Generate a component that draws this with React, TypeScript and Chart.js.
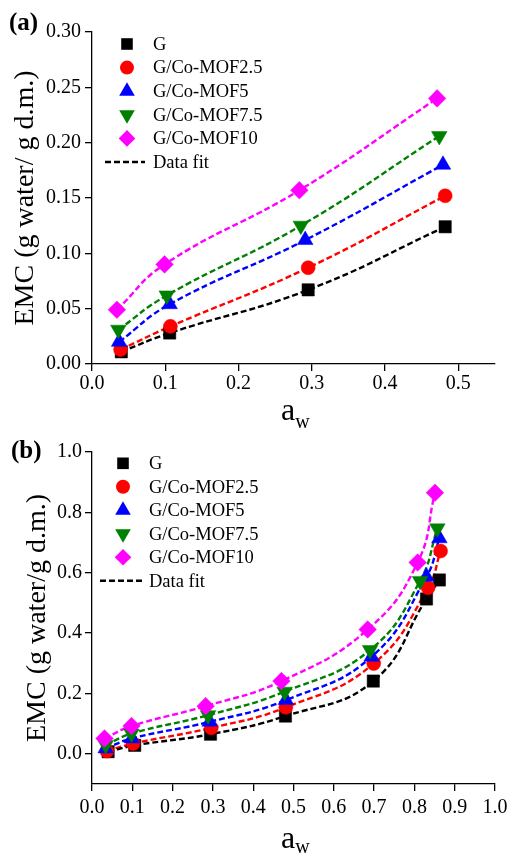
import React, { useEffect, useRef } from 'react';
import { Chart, registerables } from 'chart.js';

Chart.register(...registerables);

const FONT = "'Liberation Serif', 'Times New Roman', serif";

// ---- series meta ----
const seriesNames = ['G', 'G/Co-MOF2.5', 'G/Co-MOF5', 'G/Co-MOF7.5', 'G/Co-MOF10'];
const seriesColors = ['#000000', '#ff0000', '#0000ff', '#008000', '#ff00ff'];
const fitLabel = 'Data fit';

// ---- panel (a) data ----
const aX_G = [0.040, 0.106, 0.295, 0.482];
const aY_G = [0.011, 0.028, 0.067, 0.124];
const aX_M25 = [0.039, 0.107, 0.295, 0.482];
const aY_M25 = [0.013, 0.034, 0.087, 0.152];
const aX_M5 = [0.037, 0.106, 0.291, 0.479];
const aY_M5 = [0.020, 0.054, 0.112, 0.180];
const aX_M75 = [0.036, 0.102, 0.285, 0.474];
const aY_M75 = [0.031, 0.062, 0.125, 0.206];
const aX_M10 = [0.034, 0.099, 0.283, 0.471];
const aY_M10 = [0.049, 0.090, 0.157, 0.240];

// ---- panel (b) data ----
const bX_G = [0.040, 0.106, 0.294, 0.480, 0.698, 0.830, 0.862];
const bY_G = [0.007, 0.028, 0.065, 0.125, 0.241, 0.513, 0.576];
const bX_M25 = [0.037, 0.102, 0.296, 0.481, 0.699, 0.834, 0.865];
const bY_M25 = [0.009, 0.034, 0.086, 0.154, 0.299, 0.550, 0.672];
const bX_M5 = [0.034, 0.099, 0.292, 0.481, 0.694, 0.830, 0.862];
const bY_M5 = [0.018, 0.051, 0.106, 0.178, 0.322, 0.587, 0.714];
const bX_M75 = [0.034, 0.098, 0.288, 0.478, 0.690, 0.814, 0.857];
const bY_M75 = [0.029, 0.067, 0.128, 0.206, 0.344, 0.573, 0.747];
const bX_M10 = [0.031, 0.098, 0.282, 0.470, 0.684, 0.808, 0.851];
const bY_M10 = [0.051, 0.092, 0.158, 0.241, 0.412, 0.634, 0.865];

// ---- ticks ----
const aXTicks = [0, 0.1, 0.2, 0.3, 0.4, 0.5];
const aYTicks = [0, 0.05, 0.1, 0.15, 0.2, 0.25, 0.3];
const bXTicks = [0, 0.1, 0.2, 0.3, 0.4, 0.5, 0.6, 0.7, 0.8, 0.9, 1.0];
const bYTicks = [0, 0.2, 0.4, 0.6, 0.8, 1.0];

type MarkerStyle = 'rect' | 'circle' | 'triangle' | 'triangleDown' | 'diamond';
const markerStyles: MarkerStyle[] = ['rect', 'circle', 'triangle', 'triangleDown', 'diamond'];
const markerRadius = [8.7, 7, 9, 9, 8.8];

interface PanelSpec {
  label: string;
  labelX: number;
  labelY: number;
  height: number;
  xAxisH: number;
  xMin: number;
  xMax: number;
  xTicks: number[];
  xDec: number;
  xTickPad: number;
  yMin: number;
  yMax: number;
  yTicks: number[];
  yDec: number;
  yTickPad: number;
  yTitle: string;
  yTitleX: number;
  xTitleX: number;
  xTitleY: number;
  wY: number;
  legMarkerX: number;
  legTextX: number;
  legY0: number;
  legDy: number;
  legLine: [number, number];
  xs: number[][];
  ys: number[][];
}

const panelA: PanelSpec = {
  label: '(a)', labelX: 9, labelY: 30, height: 432, xAxisH: 68,
  xMin: 0, xMax: 0.55, xTicks: aXTicks, xDec: 1, xTickPad: 1,
  yMin: 0, yMax: 0.3, yTicks: aYTicks, yDec: 2, yTickPad: 4,
  yTitle: 'EMC (g water/ g d.m.)', yTitleX: 33,
  xTitleX: 281, xTitleY: 420, wY: 428,
  legMarkerX: 127, legTextX: 153, legY0: 44, legDy: 23.6, legLine: [105, 145],
  xs: [aX_G, aX_M25, aX_M5, aX_M75, aX_M10],
  ys: [aY_G, aY_M25, aY_M5, aY_M75, aY_M10],
};

const panelB: PanelSpec = {
  label: '(b)', labelX: 11, labelY: 38, height: 442, xAxisH: 78,
  xMin: 0, xMax: 1.0, xTicks: bXTicks, xDec: 1, xTickPad: 5,
  yMin: -0.1, yMax: 1.0, yTicks: bYTicks, yDec: 1, yTickPad: 3,
  yTitle: 'EMC (g water/g d.m.)', yTitleX: 45,
  xTitleX: 281, xTitleY: 428, wY: 433,
  legMarkerX: 123, legTextX: 149, legY0: 43.3, legDy: 23.5, legLine: [100, 142],
  xs: [bX_G, bX_M25, bX_M5, bX_M75, bX_M10],
  ys: [bY_G, bY_M25, bY_M5, bY_M75, bY_M10],
};

function drawLegendMarker(ctx: CanvasRenderingContext2D, style: MarkerStyle, x: number, y: number, r: number, color: string) {
  ctx.save();
  ctx.fillStyle = color;
  ctx.beginPath();
  if (style === 'rect') {
    const h = r * Math.SQRT1_2;
    ctx.rect(x - h, y - h, 2 * h, 2 * h);
  } else if (style === 'circle') {
    ctx.arc(x, y, r, 0, Math.PI * 2);
  } else if (style === 'triangle' || style === 'triangleDown') {
    const s = style === 'triangle' ? 1 : -1;
    const dx = r * Math.sin(Math.PI / 3);
    ctx.moveTo(x, y - s * r);
    ctx.lineTo(x + dx, y + s * r / 2);
    ctx.lineTo(x - dx, y + s * r / 2);
    ctx.closePath();
  } else {
    ctx.moveTo(x, y - r);
    ctx.lineTo(x + r, y);
    ctx.lineTo(x, y + r);
    ctx.lineTo(x - r, y);
    ctx.closePath();
  }
  ctx.fill();
  ctx.restore();
}

function makeConfig(p: PanelSpec): any {
  const fitSets = p.xs.map((xs, i) => ({
    type: 'line',
    label: fitLabel + ' ' + seriesNames[i],
    data: xs.map((x, j) => ({ x, y: p.ys[i][j] })),
    borderColor: seriesColors[i],
    borderWidth: 2.4,
    borderDash: [6, 3],
    pointRadius: 0,
    fill: false,
    tension: 0.45,
    order: 100,
  }));
  const markerSets = p.xs.map((xs, i) => ({
    type: 'scatter',
    label: seriesNames[i],
    data: xs.map((x, j) => ({ x, y: p.ys[i][j] })),
    backgroundColor: seriesColors[i],
    borderColor: seriesColors[i],
    borderWidth: 0.5,
    pointStyle: markerStyles[i] === 'triangleDown' ? 'triangle' : markerStyles[i] === 'diamond' ? 'rectRot' : markerStyles[i],
    rotation: markerStyles[i] === 'triangleDown' ? 180 : 0,
    pointRadius: markerRadius[i],
    pointHoverRadius: markerRadius[i],
    showLine: false,
    order: 10 - i,
  }));

  const decor = {
    id: 'decor_' + p.label,
    afterDraw(chart: any) {
      const ctx: CanvasRenderingContext2D = chart.ctx;
      const area = chart.chartArea;
      ctx.save();
      ctx.fillStyle = '#000';
      // panel label
      ctx.font = `bold 25px ${FONT}`;
      ctx.textAlign = 'left';
      ctx.textBaseline = 'alphabetic';
      ctx.fillText(p.label, p.labelX, p.labelY);
      // y title
      ctx.save();
      ctx.translate(p.yTitleX, (area.top + area.bottom) / 2);
      ctx.rotate(-Math.PI / 2);
      ctx.font = `28px ${FONT}`;
      ctx.textAlign = 'center';
      ctx.fillText(p.yTitle, 0, 0);
      ctx.restore();
      // x title a_w
      ctx.font = `32px ${FONT}`;
      ctx.textAlign = 'left';
      ctx.fillText('a', p.xTitleX, p.xTitleY);
      const aw = ctx.measureText('a').width;
      ctx.font = `20px ${FONT}`;
      ctx.fillText('w', p.xTitleX + aw, p.wY);
      // legend
      ctx.font = `18.5px ${FONT}`;
      ctx.textBaseline = 'middle';
      seriesNames.forEach((name, i) => {
        const y = p.legY0 + i * p.legDy;
        const r = markerStyles[i] === 'rect' ? 8.2 : markerStyles[i] === 'diamond' ? 8.3 : markerRadius[i];
        drawLegendMarker(ctx, markerStyles[i], p.legMarkerX, y, r, seriesColors[i]);
        ctx.fillStyle = '#000';
        ctx.fillText(name, p.legTextX, y + 1);
      });
      const yl = p.legY0 + 5 * p.legDy;
      ctx.strokeStyle = '#000';
      ctx.lineWidth = 2.4;
      ctx.setLineDash([6, 3]);
      ctx.beginPath();
      ctx.moveTo(p.legLine[0], yl);
      ctx.lineTo(p.legLine[1], yl);
      ctx.stroke();
      ctx.setLineDash([]);
      ctx.fillText(fitLabel, p.legTextX, yl + 1);
      ctx.restore();
    },
  };

  return {
    type: 'scatter',
    data: { datasets: [...fitSets, ...markerSets] },
    options: {
      responsive: false,
      animation: false,
      events: [],
      layout: { padding: { left: 0, right: 22, top: 32, bottom: 0 } },
      plugins: { legend: { display: false }, tooltip: { enabled: false }, title: { display: false } },
      scales: {
        x: {
          type: 'linear',
          position: 'bottom',
          min: p.xMin,
          max: p.xMax,
          afterBuildTicks: (s: any) => { s.ticks = p.xTicks.map((v) => ({ value: v })); },
          afterFit: (s: any) => { s.height = p.xAxisH; },
          ticks: {
            callback: (v: any) => Number(v).toFixed(p.xDec),
            font: { family: FONT, size: 20 },
            color: '#000',
            padding: p.xTickPad,
            maxRotation: 0,
            autoSkip: false,
          },
          grid: { drawOnChartArea: false, drawTicks: true, tickLength: 7, color: '#000', lineWidth: 1.3 },
          border: { display: true, color: '#000', width: 1.3 },
          title: { display: false },
        },
        y: {
          type: 'linear',
          position: 'left',
          min: p.yMin,
          max: p.yMax,
          afterBuildTicks: (s: any) => { s.ticks = p.yTicks.map((v) => ({ value: v })); },
          afterFit: (s: any) => { s.width = 92; },
          ticks: {
            callback: (v: any) => Number(v).toFixed(p.yDec),
            font: { family: FONT, size: 20 },
            color: '#000',
            padding: p.yTickPad,
            autoSkip: false,
          },
          grid: { drawOnChartArea: false, drawTicks: true, tickLength: 7, color: '#000', lineWidth: 1.3 },
          border: { display: true, color: '#000', width: 1.3 },
          title: { display: false },
        },
      },
    },
    plugins: [decor],
  };
}

function Panel({ spec, top }: { spec: PanelSpec; top: number }) {
  const ref = useRef<HTMLCanvasElement | null>(null);
  useEffect(() => {
    if (!ref.current) return;
    const chart = new Chart(ref.current, makeConfig(spec));
    return () => chart.destroy();
  }, [spec]);
  return (
    <canvas
      ref={ref}
      width={517}
      height={spec.height}
      style={{ position: 'absolute', left: 0, top, width: 517, height: spec.height }}
    />
  );
}

export default function App() {
  return (
    <div style={{ position: 'absolute', left: 0, top: 0, width: 517, height: 862, background: '#fff', overflow: 'hidden' }}>
      <Panel spec={panelA} top={0} />
      <Panel spec={panelB} top={420} />
    </div>
  );
}
